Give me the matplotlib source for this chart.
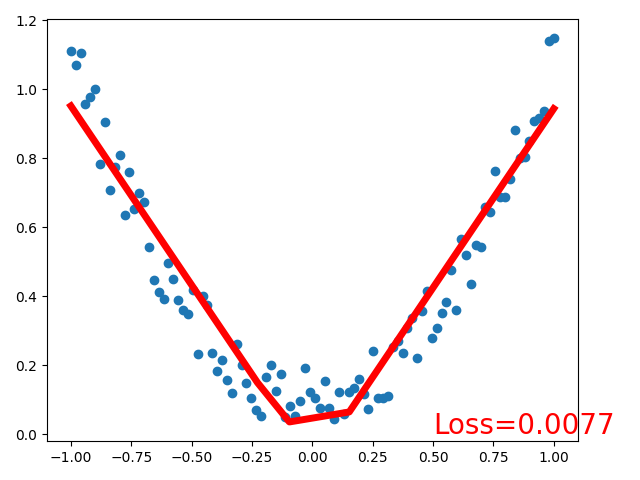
import numpy as np
import matplotlib
matplotlib.use("Agg")
import matplotlib.pyplot as plt

x = np.linspace(-1, 1, 100)
y = [1.110, 1.072, 1.107, 0.958, 0.979, 1.002, 0.784, 0.906, 0.708, 0.775,
     0.810, 0.635, 0.760, 0.652, 0.700, 0.673, 0.542, 0.446, 0.411, 0.393,
     0.495, 0.449, 0.390, 0.361, 0.347, 0.419, 0.233, 0.400, 0.373, 0.236,
     0.183, 0.215, 0.157, 0.120, 0.262, 0.200, 0.149, 0.105, 0.070, 0.052,
     0.166, 0.200, 0.125, 0.175, 0.050, 0.080, 0.052, 0.096, 0.192, 0.122,
     0.105, 0.076, 0.154, 0.076, 0.044, 0.122, 0.058, 0.122, 0.134, 0.160,
     0.117, 0.073, 0.242, 0.105, 0.105, 0.111, 0.253, 0.271, 0.236, 0.309,
     0.338, 0.221, 0.358, 0.414, 0.280, 0.309, 0.350, 0.384, 0.475, 0.361,
     0.565, 0.518, 0.434, 0.548, 0.542, 0.658, 0.644, 0.763, 0.687, 0.687,
     0.740, 0.883, 0.801, 0.804, 0.850, 0.909, 0.918, 0.938, 1.139, 1.148]

pred_x = [-1.0, -0.227, -0.095, 0.153, 1.0]
pred_y = [0.952, 0.149, 0.035, 0.064, 0.944]
loss = 0.0077

fig = plt.figure(figsize=(6.4, 4.8), dpi=100)
plt.subplots_adjust(left=0.073, right=0.903, top=0.960, bottom=0.081)
plt.scatter(x, y)
plt.plot(pred_x, pred_y, 'r-', lw=5)
plt.text(0.5, 0, 'Loss=%.4f' % loss, fontdict={'size': 20, 'color': 'red'})
plt.savefig("out.png")
